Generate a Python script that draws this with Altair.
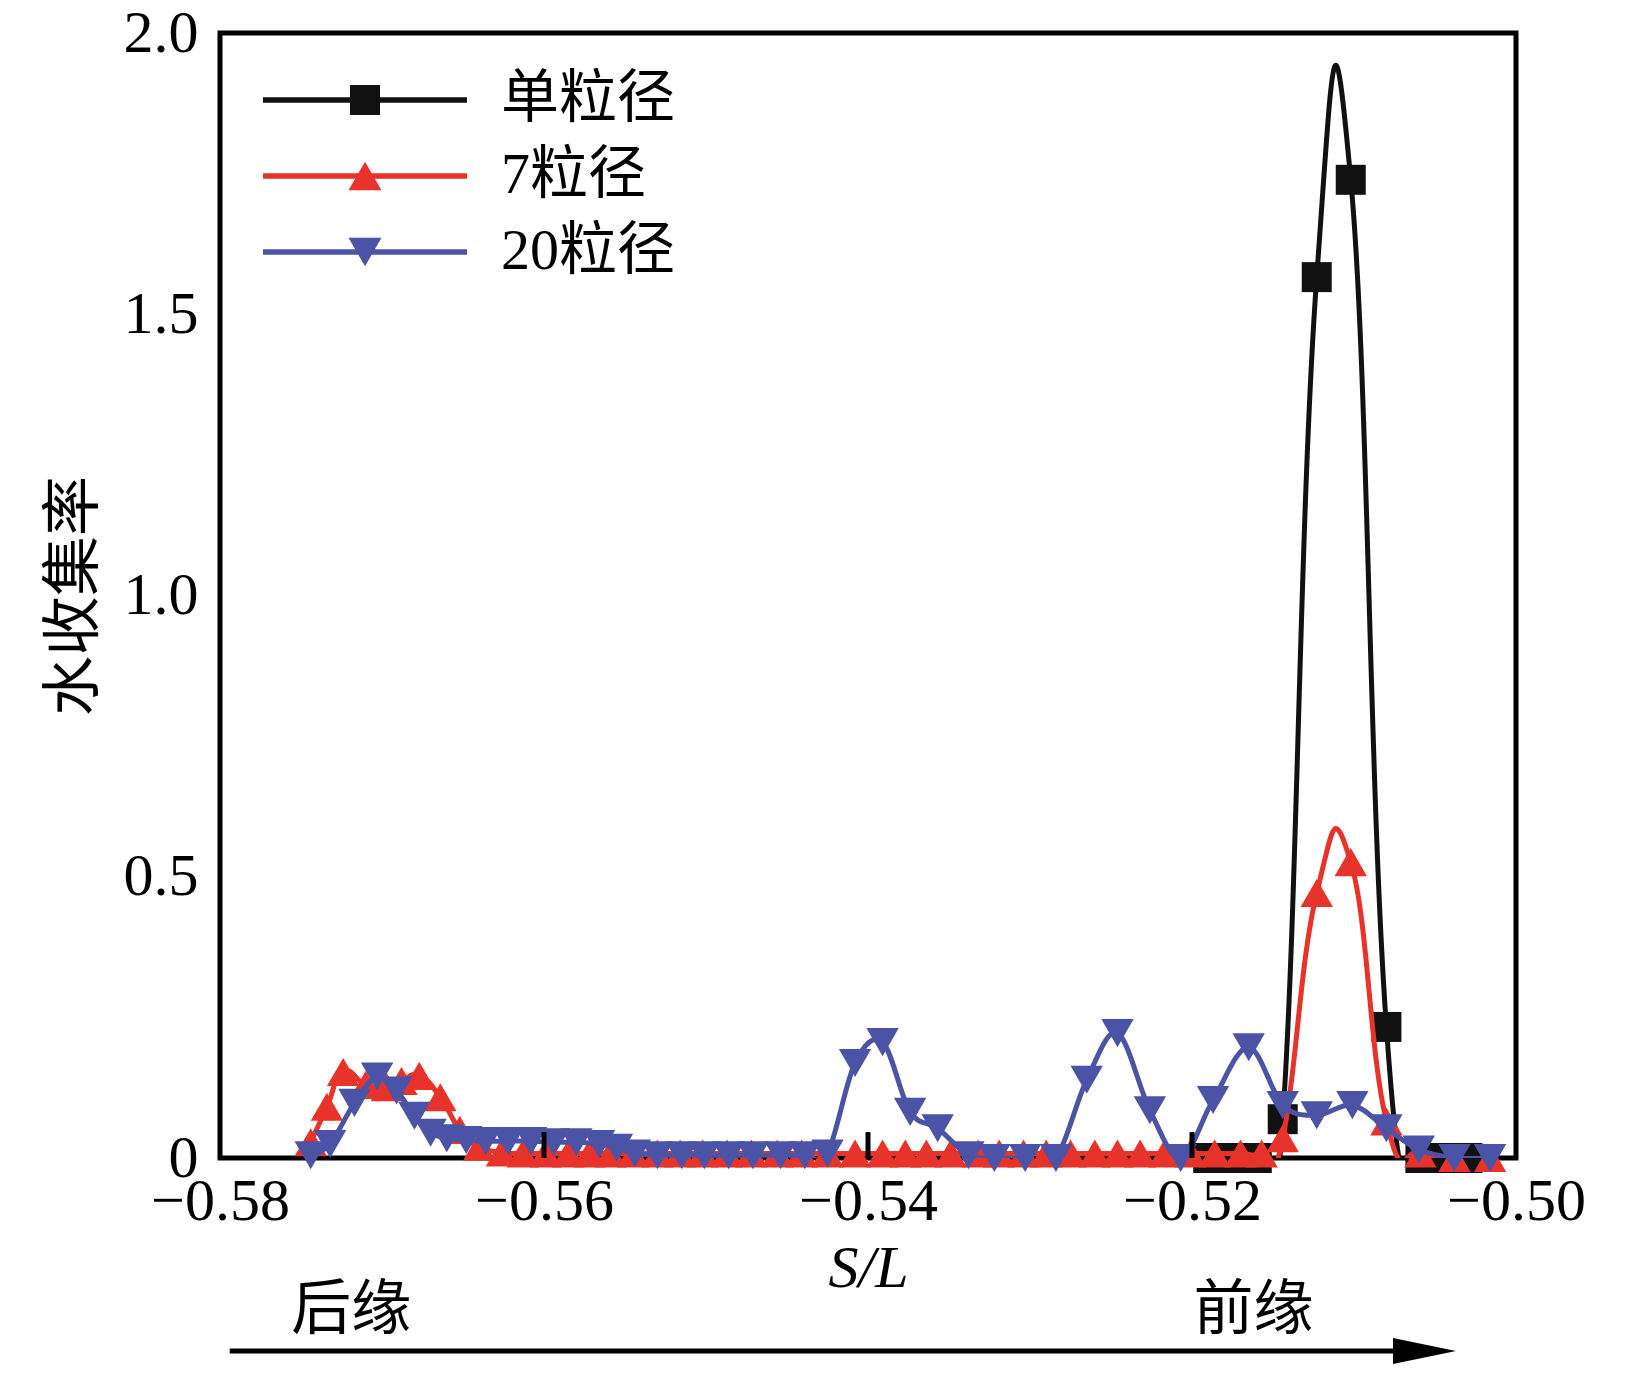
import altair as alt
import pandas as pd

# ---------------- data ----------------
series_names = ["单粒径", "7粒径", "20粒径"]
series_colors = ["#111111", "#e8332a", "#4a53a6"]

single_x = [-0.5190, -0.5175, -0.5160, -0.5144, -0.5123, -0.5102, -0.5080, -0.5059, -0.5045, -0.5030]
single_y = [0.0, 0.0, 0.0, 0.069, 1.566, 1.739, 0.233, 0.0, 0.0, 0.0]

seven_x = [-0.5744, -0.5734, -0.5724, -0.5710, -0.5697, -0.5688, -0.5677, -0.5664, -0.5652, -0.5640,
           -0.5626, -0.5613, -0.5599, -0.5585, -0.5572, -0.5559, -0.5545, -0.5530, -0.5516, -0.5502,
           -0.5487, -0.5472, -0.5456, -0.5441, -0.5425, -0.5408, -0.5391, -0.5377, -0.5364, -0.5349,
           -0.5332, -0.5319, -0.5304, -0.5290, -0.5275, -0.5260, -0.5246, -0.5232, -0.5217, -0.5201,
           -0.5186, -0.5170, -0.5157, -0.5144, -0.5123, -0.5102, -0.5080, -0.5059, -0.5038, -0.5016]
seven_y = [0.028, 0.091, 0.153, 0.130, 0.126, 0.137, 0.146, 0.108, 0.050, 0.020,
           0.010, 0.008, 0.008, 0.008, 0.008, 0.008, 0.008, 0.008, 0.008, 0.008,
           0.008, 0.008, 0.008, 0.008, 0.008, 0.008, 0.008, 0.008, 0.008, 0.008,
           0.008, 0.008, 0.008, 0.008, 0.008, 0.008, 0.008, 0.008, 0.008, 0.008,
           0.008, 0.008, 0.008, 0.035, 0.471, 0.526, 0.065, 0.008, 0.0, 0.0]

twenty_x = [-0.5744, -0.5732, -0.5717, -0.5703, -0.5691, -0.5680, -0.5670, -0.5660, -0.5648, -0.5636,
            -0.5622, -0.5608, -0.5594, -0.5580, -0.5566, -0.5555, -0.5544, -0.5530, -0.5515, -0.5501,
            -0.5486, -0.5471, -0.5454, -0.5439, -0.5425, -0.5408, -0.5391, -0.5374, -0.5357, -0.5338,
            -0.5322, -0.5303, -0.5284, -0.5265, -0.5246, -0.5226, -0.5207, -0.5187, -0.5165, -0.5144,
            -0.5123, -0.5101, -0.5080, -0.5060, -0.5038, -0.5016]
twenty_y = [0.005, 0.025, 0.098, 0.145, 0.120, 0.075, 0.045, 0.035, 0.032, 0.030,
            0.030, 0.030, 0.028, 0.028, 0.025, 0.018, 0.008, 0.005, 0.005, 0.005,
            0.005, 0.005, 0.005, 0.005, 0.008, 0.169, 0.206, 0.082, 0.053, 0.005,
            0.0, 0.0, 0.0, 0.139, 0.222, 0.085, 0.0, 0.103, 0.197, 0.094,
            0.076, 0.094, 0.053, 0.015, 0.0, 0.0]

x_ticks = [-0.58, -0.56, -0.54, -0.52, -0.50]
y_ticks = [0, 0.5, 1.0, 1.5, 2.0]
inner_ticks = [-0.56, -0.54, -0.52]

ann_labels = ["后缘", "前缘"]
ann_x = [-0.5719, -0.5162]
arrow_start = [-0.5794]
arrow_end = [-0.5068]
arrow_head = [-0.50565]

# ---------------- styling ----------------
SERIF = "Liberation Serif"
CJK = "Noto Sans CJK SC"

legend_paths = [
    "M-6.8,-0.18 L6.8,-0.18 L6.8,0.18 L-6.8,0.18 Z M-1,-1 L1,-1 L1,1 L-1,1 Z",
    "M-6.8,-0.18 L6.8,-0.18 L6.8,0.18 L-6.8,0.18 Z M0,-0.95 L1.1,0.95 L-1.1,0.95 Z",
    "M-6.8,-0.18 L6.8,-0.18 L6.8,0.18 L-6.8,0.18 Z M-1.1,-0.95 L1.1,-0.95 L0,0.95 Z",
]

X = alt.X(
    "x:Q",
    scale=alt.Scale(domain=[-0.58, -0.50], nice=False, zero=False),
    axis=alt.Axis(
        values=x_ticks, format=".2f", title="S/L",
        labelFont=SERIF, labelFontSize=60, labelColor="black",
        labelPadding=14, labelFlush=False, labelOverlap=False,
        ticks=False, tickSize=0, domain=False, grid=False,
        titleFont=SERIF, titleFontSize=60, titleFontStyle="italic",
        titleFontWeight="normal", titleColor="black", titlePadding=8,
    ),
)
Y = alt.Y(
    "y:Q",
    scale=alt.Scale(domain=[0, 2], nice=False),
    axis=alt.Axis(
        values=y_ticks,
        labelExpr="datum.value == 0 ? '0' : format(datum.value, '.1f')",
        labelFont=SERIF, labelFontSize=60, labelColor="black",
        labelPadding=22, labelFlush=False,
        ticks=False, tickSize=0, domain=False, grid=False,
        title="水收集率", titleFont=CJK, titleFontSize=60,
        titleFontWeight="normal", titleColor="black", titlePadding=18,
    ),
)


def series_layers(xs, ys, color, shape, size, tension):
    df = pd.DataFrame({"x": xs, "y": ys})
    line = alt.Chart(df).mark_line(
        color=color, strokeWidth=5, interpolate="cardinal", tension=tension, clip=True
    ).encode(x=X, y=Y)
    pts = alt.Chart(df).mark_point(
        shape=shape, size=size, filled=True, color=color, opacity=1, strokeWidth=0
    ).encode(x=X, y=Y)
    return [line, pts]


layers = []
layers += series_layers(single_x, single_y, series_colors[0], "square", 900, -0.5)
layers += series_layers(seven_x, seven_y, series_colors[1], "triangle-up", 1050, -0.5)
layers += series_layers(twenty_x, twenty_y, series_colors[2], "triangle-down", 1050, 0)

# inward ticks on the x axis
tick_df = pd.DataFrame({"x": inner_ticks, "y0": [0.0] * len(inner_ticks), "y1": [0.046] * len(inner_ticks)})
ticks = alt.Chart(tick_df).mark_rule(color="black", strokeWidth=5).encode(
    x=X, y=alt.Y("y0:Q"), y2="y1:Q"
)
layers.append(ticks)

# legend (library legend with line+marker symbols)
leg = alt.Legend(
    title=None, orient="none", legendX=116, legendY=38,
    symbolSize=900, symbolStrokeWidth=0,
    labelFont=SERIF + ", " + CJK, labelFontSize=58, labelColor="black",
    labelOffset=107, labelLimit=0, rowPadding=18, padding=0,
)
legend_df = pd.DataFrame({"series": series_names})
legend_layer = alt.Chart(legend_df).mark_point(filled=True, clip=True, opacity=1).encode(
    x=alt.value(-3000), y=alt.value(-3000),
    color=alt.Color("series:N", scale=alt.Scale(domain=series_names, range=series_colors), legend=leg),
    shape=alt.Shape("series:N", scale=alt.Scale(domain=series_names, range=legend_paths), legend=leg),
)
layers.append(legend_layer)

# annotations below the axis
ann_df = pd.DataFrame({"label": ann_labels, "x": ann_x})
ann = alt.Chart(ann_df).mark_text(
    font=CJK, fontSize=60, align="center", baseline="middle", color="black"
).encode(x=alt.X("x:Q"), y=alt.value(1278), text="label:N")
layers.append(ann)

arrow_df = pd.DataFrame({"x": arrow_start, "x2": arrow_end})
arrow = alt.Chart(arrow_df).mark_rule(color="black", strokeWidth=5).encode(
    x=alt.X("x:Q"), x2="x2:Q", y=alt.value(1318)
)
layers.append(arrow)

head_df = pd.DataFrame({"x": arrow_head})
head = alt.Chart(head_df).mark_point(
    shape="M-1,-0.41 L1,0 L-1,0.41 Z", size=3969, filled=True, color="black", opacity=1, strokeWidth=0
).encode(x=alt.X("x:Q"), y=alt.value(1318))
layers.append(head)

chart = alt.layer(*layers).properties(
    width=1296, height=1125,
    autosize=alt.AutoSizeParams(type="none"),
    padding={"left": 212, "top": 25, "right": 101, "bottom": 226},
    background="white",
).configure_view(stroke="black", strokeWidth=5)

chart.save("out.html", embed_options={"renderer": "svg", "actions": False})
